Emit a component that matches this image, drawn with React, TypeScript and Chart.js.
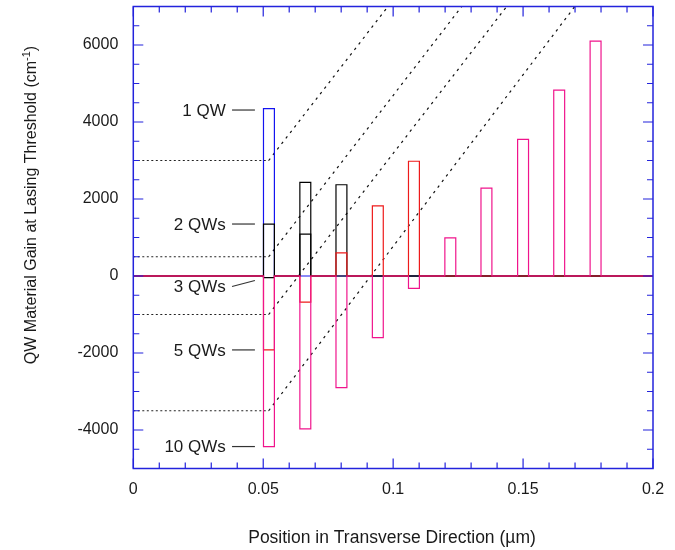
import React, { useEffect, useRef } from "react";
import { Chart, registerables } from "chart.js";

Chart.register(...registerables);

// ---- data ----
const xTickValues = [0, 0.05, 0.1, 0.15, 0.2];
const xTickLabels = ["0", "0.05", "0.1", "0.15", "0.2"];
const yTickValues = [-4000, -2000, 0, 2000, 4000, 6000];
const yTickLabels = ["-4000", "-2000", "0", "2000", "4000", "6000"];

// left edge of each quantum well (µm) and well width (µm)
const wellLeft = [0.0501, 0.0641, 0.078, 0.092, 0.1059, 0.1199, 0.1338, 0.1479, 0.1618, 0.1758];
const wellWidth = 0.0042;

// material gain at lasing threshold per well (cm^-1)
const gain1QW = [4350];
const gain2QW = [1350, 2430];
const gain3QW = [-40, 1090, 2370];
const gain5QW = [-1920, -680, 600, 1820, 2980];
const gain10QW = [-4430, -3970, -2900, -1600, -320, 990, 2280, 3550, 4830, 6100];

// dotted threshold guide lines
const guideStartY = [3000, 500, -1000, -3500];
const guideKneeX = 0.0521;
const guideTopX = [0.098, 0.1264, 0.1437, 0.1699];
const guideTopY = 7000;

const seriesLabels = ["1 QW", "2 QWs", "3 QWs", "5 QWs", "10 QWs"];

const X_MIN = 0, X_MAX = 0.2, Y_MIN = -5000, Y_MAX = 7000;
const X_MINOR = 0.01, X_MAJOR = 0.05, Y_MINOR = 500, Y_MAJOR = 2000;

const FONT = "'Liberation Sans', Arial, Helvetica, sans-serif";
const AXIS_BLUE = "#2323dc";

function stepProfile(gains: number[]) {
  const pts: { x: number; y: number }[] = [{ x: X_MIN, y: 0 }];
  gains.forEach((g, i) => {
    const l = wellLeft[i];
    const r = l + wellWidth;
    pts.push({ x: l, y: 0 }, { x: l, y: g }, { x: r, y: g }, { x: r, y: 0 });
  });
  pts.push({ x: X_MAX, y: 0 });
  return pts;
}

const decorPlugin = {
  id: "decor",
  afterDatasetsDraw(chart: any) {
    const { ctx, chartArea: a, scales } = chart;
    const xs = scales.x, ys = scales.y;
    ctx.save();
    // frame
    ctx.strokeStyle = AXIS_BLUE;
    ctx.lineWidth = 1.5;
    ctx.strokeRect(a.left, a.top, a.right - a.left, a.bottom - a.top);
    // ticks (inward, all four sides)
    ctx.lineWidth = 1.2;
    ctx.beginPath();
    const nx = Math.round((X_MAX - X_MIN) / X_MINOR);
    for (let k = 0; k <= nx; k++) {
      const v = X_MIN + k * X_MINOR;
      const px = xs.getPixelForValue(v);
      const major = Math.abs(v / X_MAJOR - Math.round(v / X_MAJOR)) < 1e-6;
      const len = major ? 10 : 6;
      ctx.moveTo(px, a.bottom);
      ctx.lineTo(px, a.bottom - len);
      ctx.moveTo(px, a.top);
      ctx.lineTo(px, a.top + len);
    }
    for (let v = Y_MIN; v <= Y_MAX; v += Y_MINOR) {
      const py = ys.getPixelForValue(v);
      const major = v % Y_MAJOR === 0;
      const len = major ? 10 : 6;
      ctx.moveTo(a.left, py);
      ctx.lineTo(a.left + len, py);
      ctx.moveTo(a.right, py);
      ctx.lineTo(a.right - len, py);
    }
    ctx.stroke();

    // series annotations
    const firstGains = [gain1QW[0], gain2QW[0], gain3QW[0], gain5QW[0], gain10QW[0]];
    const textRight = xs.getPixelForValue(0.0356);
    const lineL = xs.getPixelForValue(0.038);
    const lineR = xs.getPixelForValue(0.0468);
    ctx.font = `17px ${FONT}`;
    ctx.fillStyle = "#1a1a1a";
    ctx.strokeStyle = "#333";
    ctx.lineWidth = 1.2;
    ctx.textAlign = "right";
    ctx.textBaseline = "middle";
    seriesLabels.forEach((lab, i) => {
      let py = ys.getPixelForValue(firstGains[i]);
      let pyEnd = py;
      if (i === 0) { py += 1.5; pyEnd = py; }
      if (i === 2) { py += 9; pyEnd = py - 6; }
      ctx.fillText(lab, textRight, py + 1);
      ctx.beginPath();
      ctx.moveTo(lineL, py);
      ctx.lineTo(lineR, pyEnd);
      ctx.stroke();
    });

    // axis titles
    ctx.fillStyle = "#1a1a1a";
    ctx.textBaseline = "alphabetic";
    ctx.textAlign = "center";
    ctx.font = `17.5px ${FONT}`;
    ctx.fillText("Position in Transverse Direction (\u00b5m)", 392, 543);

    // y title with superscript
    const main = "QW Material Gain at Lasing Threshold (cm";
    const sup = "-1";
    const tail = ")";
    ctx.font = `16px ${FONT}`;
    const wMain = ctx.measureText(main).width;
    const wTail = ctx.measureText(tail).width;
    ctx.font = `11px ${FONT}`;
    const wSup = ctx.measureText(sup).width;
    const total = wMain + wSup + wTail;
    ctx.translate(35.5, 205);
    ctx.rotate(-Math.PI / 2);
    ctx.textAlign = "left";
    let cx = -total / 2;
    ctx.font = `16px ${FONT}`;
    ctx.fillText(main, cx, 0);
    cx += wMain;
    ctx.font = `11px ${FONT}`;
    ctx.fillText(sup, cx, -6);
    cx += wSup;
    ctx.font = `16px ${FONT}`;
    ctx.fillText(tail, cx, 0);
    ctx.restore();
  },
};

export default function App() {
  const ref = useRef<HTMLCanvasElement | null>(null);
  useEffect(() => {
    document.body.style.margin = "0";
    const canvas = ref.current;
    if (!canvas) return;
    const line = (data: any[], color: string, order: number) => ({
      data,
      showLine: true,
      borderColor: color,
      backgroundColor: color,
      borderWidth: 1.2,
      pointRadius: 0,
      pointHoverRadius: 0,
      fill: false,
      tension: 0,
      order,
    });
    const guideH = guideStartY.map((y0) => ({
      ...line([{ x: X_MIN, y: y0 }, { x: guideKneeX, y: y0 }], "#222", 10),
      borderDash: [2, 2.5],
      borderWidth: 1,
    }));
    const guideD = guideStartY.map((y0, i) => ({
      ...line([{ x: guideKneeX, y: y0 }, { x: guideTopX[i], y: guideTopY }], "#111", 10),
      borderDash: [2.5, 4.5],
      borderWidth: 1.2,
    }));
    const chart = new Chart(canvas, {
      type: "scatter",
      data: {
        datasets: [
          line(stepProfile(gain10QW), "#f0148c", 0),
          line(stepProfile(gain5QW), "#ee1a1a", 1),
          line(stepProfile(gain3QW), "#000000", 2),
          line(stepProfile(gain2QW), "#000000", 3),
          line(stepProfile(gain1QW), "#1414f0", 4),
          ...guideH,
          ...guideD,
        ] as any,
      },
      options: {
        animation: false,
        responsive: false,
        devicePixelRatio: 1,
        layout: { padding: { left: 0, top: 6.5, right: 22, bottom: 0 } },
        plugins: { legend: { display: false }, tooltip: { enabled: false } },
        events: [],
        scales: {
          x: {
            type: "linear",
            min: X_MIN,
            max: X_MAX,
            grid: { display: false, drawTicks: false },
            border: { display: false },
            afterBuildTicks: (s: any) => {
              s.ticks = xTickValues.map((v) => ({ value: v }));
            },
            afterFit: (s: any) => {
              s.height = 81.5;
              s.paddingLeft = 0;
              s.paddingRight = 0;
              s.paddingTop = 0;
              s.paddingBottom = 0;
            },
            ticks: {
              autoSkip: false,
              maxRotation: 0,
              padding: 11.5,
              color: "#1a1a1a",
              font: { family: FONT, size: 16 },
              callback: (v: any) => {
                const i = xTickValues.findIndex((t) => Math.abs(t - v) < 1e-9);
                return i >= 0 ? xTickLabels[i] : "";
              },
            },
          },
          y: {
            type: "linear",
            min: Y_MIN,
            max: Y_MAX,
            grid: { display: false, drawTicks: false },
            border: { display: false },
            afterBuildTicks: (s: any) => {
              s.ticks = yTickValues.map((v) => ({ value: v }));
            },
            afterFit: (s: any) => {
              s.width = 133.3;
              s.paddingTop = 0;
              s.paddingBottom = 0;
              s.paddingLeft = 0;
              s.paddingRight = 0;
            },
            ticks: {
              autoSkip: false,
              padding: 15,
              color: "#1a1a1a",
              font: { family: FONT, size: 16 },
              callback: (v: any) => {
                const i = yTickValues.indexOf(v);
                return i >= 0 ? yTickLabels[i] : "";
              },
            },
          },
        },
      },
      plugins: [decorPlugin],
    });
    return () => chart.destroy();
  }, []);
  return (
    <div style={{ width: 675, height: 550 }}>
      <canvas ref={ref} width={675} height={550} />
    </div>
  );
}
